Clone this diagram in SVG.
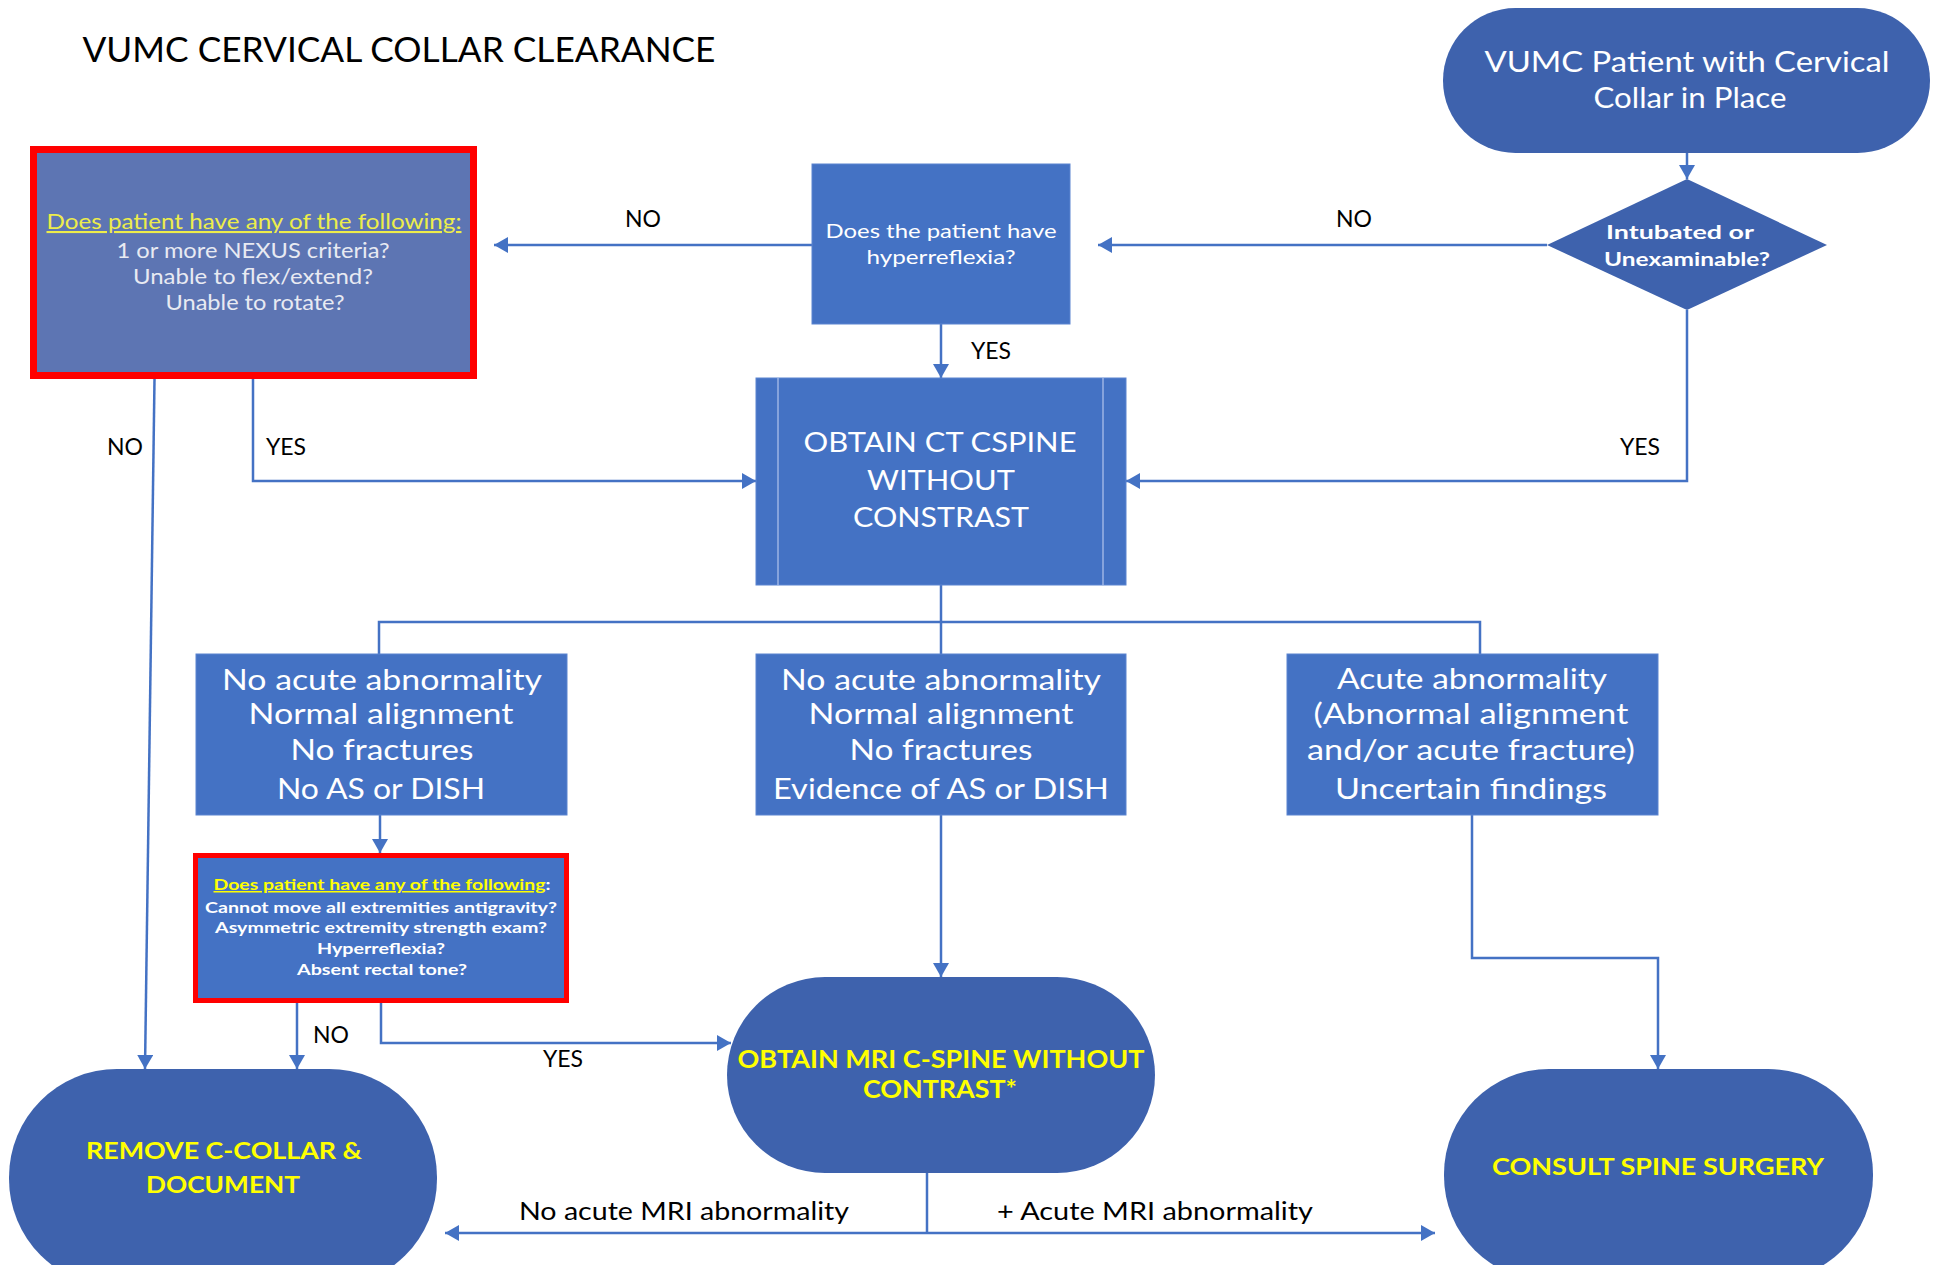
<svg xmlns="http://www.w3.org/2000/svg" width="1937" height="1265" viewBox="0 0 1937 1265">
<defs>
<marker id="ah" markerUnits="userSpaceOnUse" markerWidth="16" markerHeight="16" refX="14" refY="8" orient="auto">
<path d="M0,0 L14,8 L0,16 z" fill="#4472C4"/>
</marker>
<style>
text{font-family:Lato,"Liberation Sans",sans-serif;text-anchor:middle}
.rect{fill:#4472C4;stroke:#5B84D0;stroke-width:1}
.stad{fill:#3E62AD}
.w{fill:#FFFFFF}
.y{fill:#FFFF00;font-weight:bold}
.b{font-weight:bold}
.lbl{fill:#000000;font-size:23px}
.c{fill:none;stroke:#4472C4;stroke-width:2.5}
.ca{fill:none;stroke:#4472C4;stroke-width:2.5;marker-end:url(#ah)}
</style>
</defs>
<rect width="1937" height="1265" fill="#FFFFFF"/>

<text x="399" y="62" font-size="34" textLength="633" lengthAdjust="spacingAndGlyphs" fill="#000">VUMC CERVICAL COLLAR CLEARANCE</text>

<g id="connectors">
<line class="ca" x1="1687" y1="153" x2="1687" y2="179"/>
<line class="ca" x1="1547" y1="245" x2="1098" y2="245"/>
<line class="ca" x1="812" y1="245" x2="494" y2="245"/>
<line class="ca" x1="941" y1="324" x2="941" y2="378"/>
<polyline class="ca" points="1687,310 1687,481 1126,481"/>
<polyline class="ca" points="253,379 253,481 756,481"/>
<line class="ca" x1="155" y1="343" x2="145" y2="1069"/>
<polyline class="c" points="941,585 941,654"/>
<polyline class="c" points="379,654 379,622 1480,622 1480,654"/>
<line class="ca" x1="380" y1="815" x2="380" y2="853"/>
<line class="ca" x1="941" y1="815" x2="941" y2="977"/>
<polyline class="ca" points="1472,815 1472,958 1658,958 1658,1069"/>
<line class="ca" x1="297" y1="1003" x2="297" y2="1069"/>
<polyline class="ca" points="381,1003 381,1043 731,1043"/>
<line class="c" x1="927" y1="1173" x2="927" y2="1233"/>
<line class="ca" x1="927" y1="1233" x2="445" y2="1233"/>
<line class="ca" x1="927" y1="1233" x2="1435" y2="1233"/>
</g>

<g id="labels">
<text class="lbl" x="643" y="227">NO</text>
<text class="lbl" x="1354" y="227">NO</text>
<text class="lbl" x="991" y="359">YES</text>
<text class="lbl" x="125" y="455">NO</text>
<text class="lbl" x="286" y="455">YES</text>
<text class="lbl" x="1640" y="455">YES</text>
<text class="lbl" x="331" y="1043">NO</text>
<text class="lbl" x="563" y="1067">YES</text>
<text x="684" y="1220" font-size="25" fill="#000" textLength="330" lengthAdjust="spacingAndGlyphs">No acute MRI abnormality</text>
<text x="1155" y="1220" font-size="25" fill="#000" textLength="316" lengthAdjust="spacingAndGlyphs">+ Acute MRI abnormality</text>
</g>

<g id="start">
<rect class="stad" x="1443" y="8" width="487" height="145" rx="72.5" ry="72.5"/>
<text class="w" x="1687" y="72" font-size="28" textLength="405" lengthAdjust="spacingAndGlyphs">VUMC Patient with Cervical</text>
<text class="w" x="1690" y="108" font-size="28" textLength="193" lengthAdjust="spacingAndGlyphs">Collar in Place</text>
</g>

<g id="intubated">
<polygon points="1687,179 1827,245 1687,310 1547,245" fill="#3E62AD"/>
<text class="w b" x="1680" y="239" font-size="18" textLength="148" lengthAdjust="spacingAndGlyphs">Intubated or</text>
<text class="w b" x="1687" y="266" font-size="18" textLength="166" lengthAdjust="spacingAndGlyphs">Unexaminable?</text>
</g>

<g id="hyperreflexia">
<rect class="rect" x="812" y="164" width="258" height="160"/>
<text class="w" x="941" y="238" font-size="20" textLength="231" lengthAdjust="spacingAndGlyphs">Does the patient have</text>
<text class="w" x="941" y="264" font-size="20" textLength="149" lengthAdjust="spacingAndGlyphs">hyperreflexia?</text>
</g>

<g id="exam">
<rect x="33.5" y="149.5" width="440" height="226" fill="#5D75B3" stroke="#FF0000" stroke-width="7"/>
<text x="254" y="229" font-size="21" fill="#EDED4A" text-decoration="underline" textLength="415" lengthAdjust="spacingAndGlyphs">Does patient have any of the following:</text>
<text x="253" y="258" font-size="21" fill="#E8EAF2" textLength="273" lengthAdjust="spacingAndGlyphs">1 or more NEXUS criteria?</text>
<text x="253" y="284" font-size="21" fill="#E8EAF2" textLength="240" lengthAdjust="spacingAndGlyphs">Unable to flex/extend?</text>
<text x="255" y="310" font-size="21" fill="#E8EAF2" textLength="179" lengthAdjust="spacingAndGlyphs">Unable to rotate?</text>
</g>

<g id="ct">
<rect class="rect" x="756" y="378" width="370" height="207"/>
<line x1="778" y1="378" x2="778" y2="585" stroke="#9DB5E4" stroke-width="1.5"/>
<line x1="1103" y1="378" x2="1103" y2="585" stroke="#9DB5E4" stroke-width="1.5"/>
<text class="w" x="940" y="452" font-size="26" textLength="273" lengthAdjust="spacingAndGlyphs">OBTAIN CT CSPINE</text>
<text class="w" x="941" y="490" font-size="26" textLength="148" lengthAdjust="spacingAndGlyphs">WITHOUT</text>
<text class="w" x="941" y="527" font-size="26" textLength="176" lengthAdjust="spacingAndGlyphs">CONSTRAST</text>
</g>

<g id="normal">
<rect class="rect" x="196" y="654" width="371" height="161"/>
<text class="w" x="382" y="690" font-size="28" textLength="320" lengthAdjust="spacingAndGlyphs">No acute abnormality</text>
<text class="w" x="381" y="724" font-size="28" textLength="265" lengthAdjust="spacingAndGlyphs">Normal alignment</text>
<text class="w" x="382" y="760" font-size="28" textLength="183" lengthAdjust="spacingAndGlyphs">No fractures</text>
<text class="w" x="381" y="799" font-size="28" textLength="208" lengthAdjust="spacingAndGlyphs">No AS or DISH</text>
</g>

<g id="asdish">
<rect class="rect" x="756" y="654" width="370" height="161"/>
<text class="w" x="941" y="690" font-size="28" textLength="320" lengthAdjust="spacingAndGlyphs">No acute abnormality</text>
<text class="w" x="941" y="724" font-size="28" textLength="265" lengthAdjust="spacingAndGlyphs">Normal alignment</text>
<text class="w" x="941" y="760" font-size="28" textLength="183" lengthAdjust="spacingAndGlyphs">No fractures</text>
<text class="w" x="941" y="799" font-size="28" textLength="336" lengthAdjust="spacingAndGlyphs">Evidence of AS or DISH</text>
</g>

<g id="acute">
<rect class="rect" x="1287" y="654" width="371" height="161"/>
<text class="w" x="1472" y="689" font-size="28" textLength="270" lengthAdjust="spacingAndGlyphs">Acute abnormality</text>
<text class="w" x="1471" y="724" font-size="28" textLength="315" lengthAdjust="spacingAndGlyphs">(Abnormal alignment</text>
<text class="w" x="1471" y="760" font-size="28" textLength="328" lengthAdjust="spacingAndGlyphs">and/or acute fracture)</text>
<text class="w" x="1471" y="799" font-size="28" textLength="272" lengthAdjust="spacingAndGlyphs">Uncertain findings</text>
</g>

<g id="neuro">
<rect x="195.5" y="855.5" width="371" height="145" fill="#4472C4" stroke="#FF0000" stroke-width="5"/>
<text x="382" y="890" font-size="15" font-weight="bold" textLength="337" lengthAdjust="spacingAndGlyphs"><tspan fill="#FFFF00" text-decoration="underline">Does patient have any of the following</tspan><tspan fill="#FFFFFF">:</tspan></text>
<text class="w b" x="381" y="913" font-size="15" textLength="352" lengthAdjust="spacingAndGlyphs">Cannot move all extremities antigravity?</text>
<text class="w b" x="381" y="933" font-size="15" textLength="332" lengthAdjust="spacingAndGlyphs">Asymmetric extremity strength exam?</text>
<text class="w b" x="381" y="954" font-size="15" textLength="128" lengthAdjust="spacingAndGlyphs">Hyperreflexia?</text>
<text class="w b" x="382" y="975" font-size="15" textLength="170" lengthAdjust="spacingAndGlyphs">Absent rectal tone?</text>
</g>

<g id="mri">
<rect class="stad" x="727" y="977" width="428" height="196" rx="98" ry="98"/>
<text class="y" x="941" y="1068" font-size="24" textLength="407" lengthAdjust="spacingAndGlyphs">OBTAIN MRI C-SPINE WITHOUT</text>
<text class="y" x="940" y="1098" font-size="24" textLength="154" lengthAdjust="spacingAndGlyphs">CONTRAST*</text>
</g>

<g id="remove">
<rect class="stad" x="9" y="1069" width="428" height="218" rx="108" ry="108"/>
<text class="y" x="224" y="1159" font-size="23" textLength="276" lengthAdjust="spacingAndGlyphs">REMOVE C-COLLAR &amp;</text>
<text class="y" x="223" y="1193" font-size="23" textLength="154" lengthAdjust="spacingAndGlyphs">DOCUMENT</text>
</g>

<g id="consult">
<rect class="stad" x="1444" y="1069" width="429" height="212" rx="105" ry="105"/>
<text class="y" x="1658" y="1175" font-size="23" textLength="332" lengthAdjust="spacingAndGlyphs">CONSULT SPINE SURGERY</text>
</g>
</svg>
